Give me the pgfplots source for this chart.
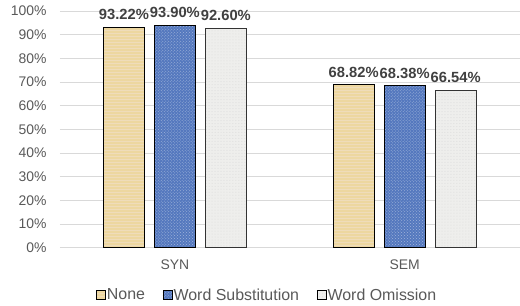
\documentclass[border=0pt]{standalone}
\usepackage{pgfplots}
\pgfplotsset{compat=1.18}
\usetikzlibrary{patterns}
\usepackage{fontspec}
\setmainfont{Liberation Sans}
\definecolor{tickgray}{HTML}{595959}
\definecolor{lblgray}{HTML}{404040}
\definecolor{gridgray}{HTML}{D9D9D9}
\definecolor{cNone}{HTML}{EDD7A0}
\definecolor{cSub}{HTML}{5478BE}
\definecolor{cOm}{HTML}{EEEEEC}
\begin{document}
\begin{tikzpicture}
\begin{axis}[
  name=ax,
  scale only axis,
  width=460bp, height=237bp,
  ymin=0, ymax=100,
  ytick={0,10,...,100},
  yticklabel={\pgfmathprintnumber{\tick}\%},
  /pgf/number format/assume math mode=true,
  xmin=-0.5, xmax=1.5,
  xtick={0,1}, xticklabels={SYN,SEM},
  ybar=10bp, bar width=41bp,
  ymajorgrids, grid style={gridgray, line width=0.8bp},
  axis x line*=bottom, axis y line*=left,
  y axis line style={draw=none},
  x axis line style={gridgray, line width=0.8bp, -},
  major tick length=0pt,
  tick label style={font=\fontsize{14}{16}\selectfont, text=tickgray},
  yticklabel style={xshift=-10bp},
  xticklabel style={yshift=-8bp},
  nodes near coords={\pgfmathprintnumber[fixed,fixed zerofill,precision=2]{\pgfplotspointmeta}\%},
  every node near coord/.append style={font=\bfseries\fontsize{14.8}{16}\selectfont, text=lblgray, inner sep=2bp, yshift=5bp},
  legend style={at={(0.45,-0.155)}, anchor=north, legend columns=3, draw=none,
    font=\fontsize{16}{18}\selectfont, text=tickgray,
    /tikz/every even column/.append style={column sep=16bp},
    /tikz/every odd column/.append style={column sep=0bp},
    /tikz/every node/.append style={inner xsep=1.5bp}},
  legend image code/.code={\draw[#1, draw=black, line width=0.6bp] (0bp,-4.5bp) rectangle (9bp,4.5bp);},
  legend cell align=left,
]
\addplot[fill=cNone, draw=black, line width=0.8bp,
  postaction={pattern=horizontal lines, pattern color=cNone!80!brown!60!white}] coordinates {(0,93.22) (1,68.82)};
\addplot[fill=cSub, draw=black, line width=0.8bp,
  postaction={pattern=crosshatch dots, pattern color=cSub!55!white}] coordinates {(0,93.90) (1,68.38)};
\addplot[fill=cOm, draw=black!80, line width=0.8bp,
  postaction={pattern=dots, pattern color=black!15}] coordinates {(0,92.60) (1,66.54)};
\legend{None, Word Substitution, Word Omission}
\end{axis}
\path[use as bounding box] (ax.south west) ++(-60bp,-57bp) rectangle ++(520bp,305bp);
\end{tikzpicture}
\end{document}
